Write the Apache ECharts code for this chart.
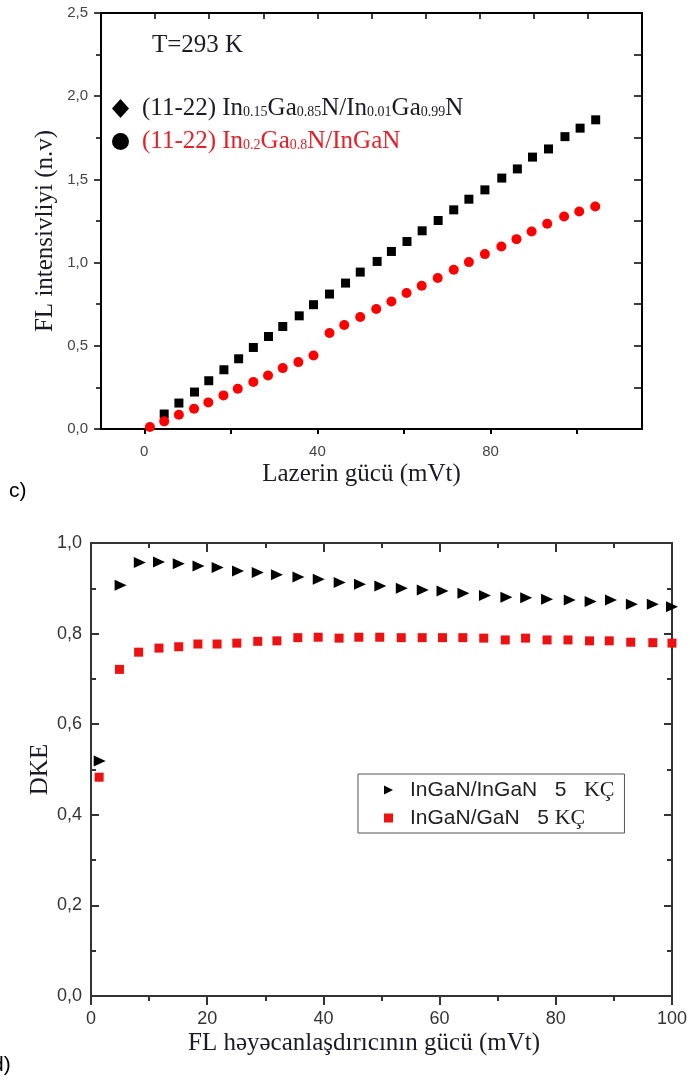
<!DOCTYPE html>
<html>
<head>
<meta charset="utf-8">
<script src="https://cdn.jsdelivr.net/npm/echarts@6/dist/echarts.min.js"></script>
<style>
  html, body { margin: 0; padding: 0; background: #fff; }
  #chart { width: 690px; height: 1082px; }
</style>
</head>
<body>
<div id="chart"></div>
<script>
// ---- panel c: FL intensity vs laser power ----
const powerA = [4.6, 8.0, 11.6, 14.9, 18.4, 21.8, 25.2, 28.7, 32.0, 35.8, 39.1, 42.8, 46.5, 49.9, 53.8,
  57.1, 60.7, 64.2, 67.9, 71.5, 75.0, 78.7, 82.6, 86.2, 89.7, 93.4, 97.2, 100.7, 104.3];
const intensA = [0.090, 0.156, 0.222, 0.290, 0.356, 0.422, 0.490, 0.556, 0.616, 0.680, 0.747, 0.811, 0.877,
  0.943, 1.007, 1.067, 1.127, 1.191, 1.253, 1.317, 1.381, 1.437, 1.508, 1.563, 1.634, 1.683, 1.757, 1.808, 1.858];

const powerB = [1.3, 4.6, 8.0, 11.5, 14.8, 18.3, 21.6, 25.2, 28.6, 32.0, 35.6, 39.1, 42.8, 46.2, 49.9,
  53.6, 57.1, 60.6, 64.1, 67.8, 71.5, 75.0, 78.7, 82.5, 86.0, 89.5, 93.1, 97.0, 100.5, 104.2];
const intensB = [0.012, 0.046, 0.086, 0.122, 0.160, 0.202, 0.242, 0.282, 0.322, 0.366, 0.402, 0.442, 0.577,
  0.625, 0.673, 0.721, 0.766, 0.817, 0.861, 0.907, 0.957, 1.003, 1.051, 1.097, 1.141, 1.187, 1.233, 1.277,
  1.307, 1.337];

const nameA = 'In0.15Ga0.85N/In0.01Ga0.99N';
const nameB = 'In0.2Ga0.8N/InGaN';

// ---- panel d: DKE vs excitation power ----
const excA = [1.5, 5.1, 8.4, 11.7, 15.1, 18.5, 21.8, 25.3, 28.7, 32.0, 35.7, 39.2, 42.8, 46.3, 49.8,
  53.5, 57.1, 60.5, 64.1, 67.8, 71.5, 74.9, 78.5, 82.4, 86.0, 89.5, 93.1, 96.7, 100];
const dkeA = [0.519, 0.907, 0.957, 0.958, 0.954, 0.949, 0.946, 0.938, 0.935, 0.930, 0.925, 0.920, 0.913,
  0.909, 0.905, 0.900, 0.896, 0.894, 0.889, 0.884, 0.880, 0.879, 0.876, 0.874, 0.871, 0.874, 0.865, 0.865, 0.859];

const excB = [1.4, 4.9, 8.2, 11.7, 15.1, 18.4, 21.7, 25.1, 28.7, 32.0, 35.6, 39.1, 42.7, 46.1, 49.7,
  53.4, 57.0, 60.5, 64.0, 67.6, 71.3, 74.8, 78.5, 82.1, 85.8, 89.2, 92.9, 96.7, 100];
const dkeB = [0.483, 0.721, 0.759, 0.768, 0.771, 0.777, 0.777, 0.779, 0.783, 0.784, 0.791, 0.792, 0.790,
  0.792, 0.792, 0.791, 0.791, 0.791, 0.791, 0.790, 0.786, 0.790, 0.786, 0.786, 0.784, 0.784, 0.781, 0.780, 0.779];

const nameC = 'InGaN/InGaN 5 KÇ';
const nameD = 'InGaN/GaN 5 KÇ';

const pairs = (xs, ys) => xs.map((x, i) => [x, ys[i]]);
const comma = (v) => v.toFixed(1).replace('.', ',');

const SERIF = '"Liberation Serif", "DejaVu Serif", serif';
const SANS = '"Liberation Sans", Arial, sans-serif';

const chart = echarts.init(document.getElementById('chart'), null, { renderer: 'canvas' });

const option = {
  animation: false,
  backgroundColor: '#fff',
  grid: [
    { left: 101, top: 13, right: 48, bottom: 653 },
    { left: 91, top: 543, right: 16, bottom: 86 }
  ],
  legend: [
    {
      orient: 'vertical',
      left: 107,
      top: 91,
      itemWidth: 17,
      itemHeight: 19,
      itemGap: 8,
      selectedMode: false,
      formatter: (n) => n === nameA
        ? '(11-22) In{s|0.15}Ga{s|0.85}N/In{s|0.01}Ga{s|0.99}N'
        : '(11-22) In{s|0.2}Ga{s|0.8}N/InGaN',
      textStyle: {
        fontFamily: SERIF, fontSize: 25, padding: [0, 0, 0, 8],
        rich: { s: { fontFamily: SERIF, fontSize: 14, verticalAlign: 'bottom', padding: [0, 0, 2, 0] } }
      },
      data: [
        { name: nameA, icon: 'diamond', itemStyle: { color: '#000', opacity: 1 }, textStyle: { color: '#1b1b28' } },
        { name: nameB, icon: 'circle', itemStyle: { color: '#000', opacity: 1 }, textStyle: { color: '#e5202a' } }
      ]
    },
    {
      orient: 'vertical',
      left: 358,
      top: 774,
      itemWidth: 9,
      itemHeight: 9,
      itemGap: 6,
      padding: [5, 10, 4, 26],
      borderColor: '#555',
      borderWidth: 1,
      selectedMode: false,
      formatter: (n) => n === nameC ? '{a|InGaN/InGaN   5   }{b|KÇ}' : '{a|InGaN/GaN   5 }{b|KÇ}',
      textStyle: {
        color: '#222', padding: [0, 0, 0, 12],
        rich: {
          a: { fontFamily: SANS, fontSize: 21, color: '#222' },
          b: { fontFamily: SERIF, fontSize: 22, color: '#222' }
        }
      },
      data: [
        { name: nameC, icon: 'path://M0,0L10,5L0,10Z', itemStyle: { color: '#000', opacity: 1 } },
        { name: nameD, icon: 'rect', itemStyle: { color: '#ee1111', opacity: 1 } }
      ]
    }
  ],
  xAxis: [
    {
      gridIndex: 0, type: 'value', min: -10, max: 115, position: 'bottom',
      name: 'Lazerin gücü (mVt)', nameLocation: 'middle', nameGap: 33, nameMoveOverlap: false,
      nameTextStyle: { fontFamily: SERIF, fontSize: 25, color: '#1b1b28', padding: [0, 20, 0, 0] },
      axisLine: { onZero: false, lineStyle: { color: '#000', width: 2 } },
      axisTick: { inside: false, length: 5, customValues: [0, 20, 40, 60, 80, 100], lineStyle: { color: '#000', width: 2 } },
      axisLabel: { customValues: [0, 40, 80], margin: 15, fontFamily: SANS, fontSize: 15, color: '#444' },
      splitLine: { show: false }
    },
    {
      gridIndex: 0, type: 'value', min: 0, max: 10, interval: 1, position: 'top',
      axisLine: { onZero: false, lineStyle: { color: '#000', width: 2 } },
      axisTick: { inside: true, length: 6, lineStyle: { color: '#000', width: 1.5 } },
      axisLabel: { show: false },
      splitLine: { show: false }
    },
    {
      gridIndex: 1, type: 'value', min: 0, max: 100, interval: 20, position: 'bottom',
      name: 'FL həyəcanlaşdırıcının gücü (mVt)', nameLocation: 'middle', nameGap: 35, nameMoveOverlap: false,
      nameTextStyle: { fontFamily: SERIF, fontSize: 25, color: '#1b1b28', padding: [0, 35, 0, 0] },
      axisLine: { onZero: false, lineStyle: { color: '#333', width: 2 } },
      axisTick: { inside: false, length: 9, lineStyle: { color: '#333', width: 2 } },
      minorTick: { show: true, splitNumber: 2, length: 5, lineStyle: { color: '#333', width: 2 } },
      axisLabel: { margin: 14, fontFamily: SANS, fontSize: 18, color: '#333' },
      splitLine: { show: false }
    },
    {
      gridIndex: 1, type: 'value', min: 0, max: 100, interval: 20, position: 'top',
      axisLine: { onZero: false, lineStyle: { color: '#333', width: 2 } },
      axisTick: { inside: true, length: 9, lineStyle: { color: '#333', width: 2 } },
      minorTick: { show: true, splitNumber: 2, length: 5, lineStyle: { color: '#333', width: 2 } },
      axisLabel: { show: false },
      splitLine: { show: false }
    }
  ],
  yAxis: [
    {
      gridIndex: 0, type: 'value', min: 0, max: 2.5, interval: 0.5, position: 'left',
      name: 'FL intensivliyi (n.v)', nameLocation: 'middle', nameGap: 43, nameMoveOverlap: false,
      nameTextStyle: { fontFamily: SERIF, fontSize: 25, color: '#1b1b28', padding: [0, 20, 0, 0] },
      axisLine: { onZero: false, lineStyle: { color: '#000', width: 2 } },
      axisTick: { inside: false, length: 7, lineStyle: { color: '#000', width: 1.5 } },
      minorTick: { show: true, splitNumber: 2, length: 5, lineStyle: { color: '#000', width: 1.5 } },
      axisLabel: { margin: 13, fontFamily: SANS, fontSize: 15, color: '#444', formatter: comma },
      splitLine: { show: false }
    },
    {
      gridIndex: 0, type: 'value', min: 0, max: 2.5, interval: 0.25, position: 'right',
      axisLine: { onZero: false, lineStyle: { color: '#000', width: 2 } },
      axisTick: { inside: true, length: 8, lineStyle: { color: '#000', width: 1.5 } },
      axisLabel: { show: false },
      splitLine: { show: false }
    },
    {
      gridIndex: 1, type: 'value', min: 0, max: 1, interval: 0.2, position: 'left',
      name: 'DKE', nameLocation: 'middle', nameGap: 38, nameMoveOverlap: false,
      nameTextStyle: { fontFamily: SERIF, fontSize: 25, color: '#1b1b28' },
      axisLine: { onZero: false, lineStyle: { color: '#333', width: 2 } },
      axisTick: { inside: true, length: 8, lineStyle: { color: '#333', width: 2 } },
      minorTick: { show: true, splitNumber: 2, length: 5, lineStyle: { color: '#333', width: 2 } },
      axisLabel: { margin: 9, fontFamily: SANS, fontSize: 18, color: '#333', formatter: comma },
      splitLine: { show: false }
    },
    {
      gridIndex: 1, type: 'value', min: 0, max: 1, interval: 0.2, position: 'right',
      axisLine: { onZero: false, lineStyle: { color: '#333', width: 2 } },
      axisTick: { inside: true, length: 8, lineStyle: { color: '#333', width: 2 } },
      minorTick: { show: true, splitNumber: 2, length: 5, lineStyle: { color: '#333', width: 2 } },
      axisLabel: { show: false },
      splitLine: { show: false }
    }
  ],
  series: [
    {
      name: nameA, type: 'scatter', xAxisIndex: 0, yAxisIndex: 0,
      symbol: 'rect', symbolSize: 9, itemStyle: { color: '#000', opacity: 1 },
      data: pairs(powerA, intensA)
    },
    {
      name: nameB, type: 'scatter', xAxisIndex: 0, yAxisIndex: 0,
      symbol: 'circle', symbolSize: 10, itemStyle: { color: '#ff0000', opacity: 1 },
      data: pairs(powerB, intensB)
    },
    {
      name: nameC, type: 'scatter', xAxisIndex: 2, yAxisIndex: 2,
      symbol: 'path://M0,0L10,5L0,10Z', symbolSize: [12, 11], itemStyle: { color: '#000', opacity: 1 },
      data: pairs(excA, dkeA)
    },
    {
      name: nameD, type: 'scatter', xAxisIndex: 2, yAxisIndex: 2,
      symbol: 'rect', symbolSize: 9, itemStyle: { color: '#ee1111', opacity: 1 },
      data: pairs(excB, dkeB)
    }
  ],
  graphic: [
    { type: 'text', left: 152, top: 33, style: { text: 'T=293 K', font: '25px ' + SERIF, fill: '#1b1b28' } },
    { type: 'text', left: 9, top: 481, style: { text: 'c)', font: '21px ' + SANS, fill: '#000' } },
    { type: 'text', left: -8, top: 1055, style: { text: 'd)', font: '21px ' + SANS, fill: '#000' } }
  ]
};

chart.setOption(option);
</script>
</body>
</html>
